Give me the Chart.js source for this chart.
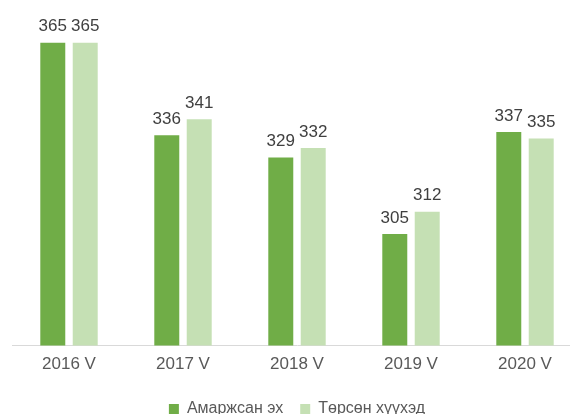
<html lang="mn">

<head>
  <meta charset="UTF-8">
  <script src="https://cdnjs.cloudflare.com/ajax/libs/Chart.js/4.4.1/chart.umd.min.js"></script>
  <title>Амаржсан эх, төрсөн хүүхэд</title>
  <style>
    html, body { margin: 0; padding: 0; background: #fff; overflow: hidden; }
    #wrap { width: 570px; height: 414px; overflow: hidden; }
  </style>
</head>

<body>
  <div id="wrap">
    <canvas id="myChart" width="610" height="427"></canvas>
  </div>
  <script>
    const years = ['2016 V', '2017 V', '2018 V', '2019 V', '2020 V'];
    const mothers = [365, 336, 329, 305, 337];
    const children = [365, 341, 332, 312, 335];
    const seriesNames = ['Амаржсан эх', 'Төрсөн хүүхэд'];

    // draws the value above each bar
    const barValues = {
      id: 'barValues',
      afterDatasetsDraw(chart) {
        const ctx = chart.ctx;
        ctx.save();
        ctx.font = '17px "Liberation Sans", Arial, sans-serif';
        ctx.fillStyle = '#404040';
        ctx.textAlign = 'center';
        ctx.textBaseline = 'alphabetic';
        chart.data.datasets.forEach((ds, i) => {
          chart.getDatasetMeta(i).data.forEach((bar, j) => {
            ctx.fillText(ds.data[j], bar.x, bar.y - 11.5);
          });
        });
        ctx.restore();
      }
    };

    const ctx = document.getElementById('myChart').getContext('2d');
    const myChart = new Chart(ctx, {
      type: 'bar',
      data: {
        labels: years,
        datasets: [
          {
            label: seriesNames[0],
            data: mothers,
            backgroundColor: '#70AD47',
          },
          {
            label: seriesNames[1],
            data: children,
            backgroundColor: '#C5E0B4',
          }
        ]
      },
      options: {
        responsive: false,
        animation: false,
        categoryPercentage: 0.569,
        barPercentage: 0.77,
        layout: {
          padding: { left: 12, right: 28, top: 11, bottom: 0 }
        },
        plugins: {
          tooltip: { enabled: false },
          legend: {
            position: 'bottom',
            labels: {
              boxWidth: 10,
              boxHeight: 10,
              padding: 17,
              color: '#595959',
              font: { family: 'Liberation Sans', size: 16 }
            }
          }
        },
        scales: {
          y: {
            display: false,
            min: 270,
            max: 375
          },
          x: {
            grid: { display: false, drawTicks: false },
            border: { display: true, color: '#D9D9D9', width: 1 },
            ticks: {
              padding: 9,
              color: '#595959',
              font: { family: 'Liberation Sans', size: 17 }
            }
          }
        }
      },
      plugins: [barValues]
    });
  </script>
</body>

</html>
